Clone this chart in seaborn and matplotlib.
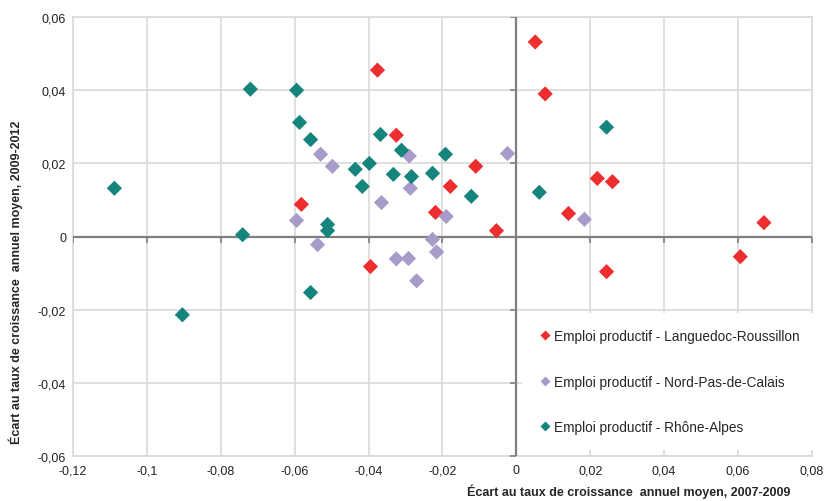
import numpy as np
import pandas as pd
import matplotlib
matplotlib.use('Agg')
import matplotlib.pyplot as plt
import seaborn as sns

# series labels
lr_name = 'Emploi productif - Languedoc-Roussillon'
npc_name = 'Emploi productif - Nord-Pas-de-Calais'
ra_name = 'Emploi productif - Rhône-Alpes'

# x = ecart 2007-2009, y = ecart 2009-2012
lr_x = [0.0051, 0.0078, -0.0376, -0.0325, -0.0110, -0.0179, -0.0219, -0.0054,
        -0.0582, -0.0395, 0.0141, 0.0219, 0.0260, 0.0244, 0.0606, 0.0670]
lr_y = [0.0532, 0.0390, 0.0455, 0.0277, 0.0192, 0.0137, 0.0066, 0.0016,
        0.0088, -0.0082, 0.0063, 0.0159, 0.0150, -0.0096, -0.0055, 0.0038]

npc_x = [-0.0530, -0.0498, -0.0290, -0.0287, -0.0365, -0.0190, -0.0024, -0.0227,
         -0.0595, -0.0538, -0.0325, -0.0292, -0.0270, -0.0216, 0.0184]
npc_y = [0.0225, 0.0192, 0.0220, 0.0132, 0.0093, 0.0055, 0.0227, -0.0008,
         0.0044, -0.0022, -0.0061, -0.0060, -0.0121, -0.0042, 0.0047]

ra_x = [-0.0720, -0.0595, -0.0587, -0.0557, -0.1088, -0.0741, -0.0368, -0.0311,
        -0.0192, -0.0436, -0.0398, -0.0417, -0.0333, -0.0284, -0.0227, -0.0122,
        -0.0511, -0.0511, 0.0062, 0.0244, -0.0557, -0.0904]
ra_y = [0.0403, 0.0400, 0.0312, 0.0265, 0.0132, 0.0005, 0.0279, 0.0236,
        0.0225, 0.0184, 0.0200, 0.0137, 0.0170, 0.0164, 0.0173, 0.0110,
        0.0033, 0.0016, 0.0121, 0.0299, -0.0153, -0.0214]

x_ticks = [-0.12, -0.1, -0.08, -0.06, -0.04, -0.02, 0, 0.02, 0.04, 0.06, 0.08]
x_tick_labels = ['-0,12', '-0,1', '-0,08', '-0,06', '-0,04', '-0,02', '0', '0,02', '0,04', '0,06', '0,08']
y_ticks = [-0.06, -0.04, -0.02, 0, 0.02, 0.04, 0.06]
y_tick_labels = ['-0,06', '-0,04', '-0,02', '0', '0,02', '0,04', '0,06']

colors = {lr_name: '#ee2e2e', npc_name: '#a99bc9', ra_name: '#15847d'}

df = pd.concat([
    pd.DataFrame({'x': lr_x, 'y': lr_y, 'serie': lr_name}),
    pd.DataFrame({'x': npc_x, 'y': npc_y, 'serie': npc_name}),
    pd.DataFrame({'x': ra_x, 'y': ra_y, 'serie': ra_name}),
])

sns.set_style('white')
plt.rcParams['font.family'] = ['Liberation Sans', 'DejaVu Sans']

fig, ax = plt.subplots(figsize=(8.26, 5.02), dpi=100)
fig.subplots_adjust(left=0.0884, right=0.983, top=0.964, bottom=0.0896)

ax.set_axisbelow(True)
ax.grid(True, color='#d9d9d9', lw=1.2)
for s in ax.spines.values():
    s.set_color('#d9d9d9')
    s.set_linewidth(1.2)

# axes crossing at zero (drawn above the legend box, below the points)
ax.axhline(0, color='#7f7f7f', lw=1.6, zorder=6)
ax.axvline(0, color='#7f7f7f', lw=1.6, zorder=6)
ax.plot(np.zeros(len(y_ticks)), y_ticks, ls='none', marker=0, ms=4, mew=1.2, color='#7f7f7f', zorder=6)
ax.plot(x_ticks, np.zeros(len(x_ticks)), ls='none', marker=3, ms=4, mew=1.2, color='#7f7f7f', zorder=6)

sns.scatterplot(data=df, x='x', y='y', hue='serie', palette=colors, marker='D',
                s=60, edgecolor='none', ax=ax, zorder=7)

ax.set_xlim(-0.12, 0.08)
ax.set_ylim(-0.06, 0.06)
ax.set_xticks(x_ticks)
ax.set_xticklabels(x_tick_labels)
ax.set_yticks(y_ticks)
ax.set_yticklabels(y_tick_labels)
ax.tick_params(length=0, labelsize=9, colors='#222222')
ax.tick_params(axis='x', pad=6)
ax.tick_params(axis='y', pad=5)
ax.set_xlabel('')
ax.set_ylabel('')

fig.text(790 / 826, 1 - 492 / 502, 'Écart au taux de croissance  annuel moyen, 2007-2009',
         ha='right', va='center', fontsize=9, fontweight='bold')
fig.text(16 / 826, 1 - 282 / 502, 'Écart au taux de croissance  annuel moyen, 2009-2012',
         ha='center', va='center', rotation=90, fontsize=9, fontweight='bold')

leg = ax.legend(loc='upper left', bbox_to_anchor=(0.607, 0.326), frameon=True,
                fancybox=False, edgecolor='none', facecolor='white', framealpha=1,
                fontsize=9.8, markerscale=0.6, labelspacing=2.3, handletextpad=0.2,
                handlelength=1.0, borderpad=1.2, borderaxespad=0)
leg.set_zorder(5)

fig.savefig('out.png', dpi=100)
